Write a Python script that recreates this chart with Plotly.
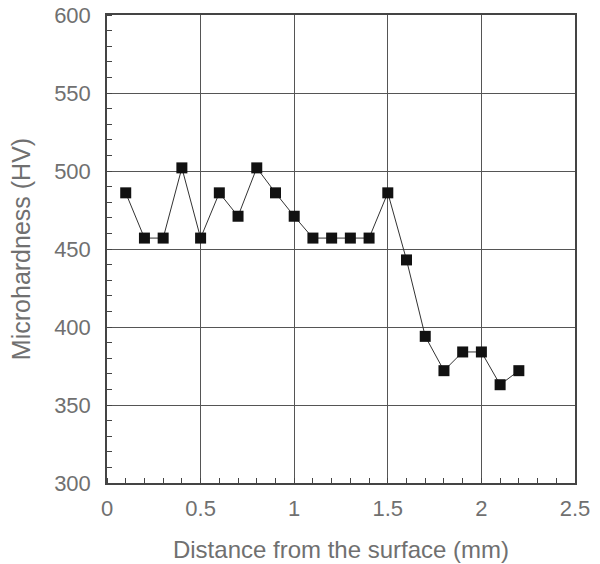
import plotly.graph_objects as go

distance_mm = [0.1, 0.2, 0.3, 0.4, 0.5, 0.6, 0.7, 0.8, 0.9, 1.0, 1.1,
               1.2, 1.3, 1.4, 1.5, 1.6, 1.7, 1.8, 1.9, 2.0, 2.1, 2.2]
microhardness_hv = [486, 457, 457, 502, 457, 486, 471, 502, 486, 471, 457,
                    457, 457, 457, 486, 443, 394, 372, 384, 384, 363, 372]

x_ticks = [0, 0.5, 1, 1.5, 2, 2.5]
x_tick_labels = ["0", "0.5", "1", "1.5", "2", "2.5"]
y_ticks = [300, 350, 400, 450, 500, 550, 600]

FONT = "Liberation Sans, Arial, sans-serif"
fig = go.Figure()
fig.add_trace(go.Scatter(
    x=distance_mm, y=microhardness_hv, mode="lines+markers",
    line=dict(color="#333333", width=1),
    marker=dict(symbol="square", size=11, color="#111111"),
    showlegend=False, cliponaxis=False,
))

tickfont = dict(family=FONT, size=22, color="#707070")
fig.update_layout(
    width=600, height=564,
    margin=dict(l=107, r=25, t=15, b=81),
    plot_bgcolor="white", paper_bgcolor="white",
    xaxis=dict(
        range=[0, 2.5], tickvals=x_ticks, ticktext=x_tick_labels,
        showgrid=True, gridcolor="#555555", gridwidth=1,
        showline=True, linecolor="#444444", linewidth=1.5, mirror=True,
        ticks="", tickfont=tickfont, zeroline=False, automargin=False,
        ticklabelstandoff=5, ticklabeloverflow="allow",
        minor=dict(dtick=0.1, ticks="inside", ticklen=5, tickcolor="#444444", showgrid=False),
        title=dict(text="Distance from the surface (mm)",
                   font=dict(family=FONT, size=24, color="#707070"), standoff=21),
    ),
    yaxis=dict(
        range=[300, 600], tickvals=y_ticks,
        showgrid=True, gridcolor="#555555", gridwidth=1,
        showline=True, linecolor="#444444", linewidth=1.5, mirror=True,
        ticks="", tickfont=tickfont, zeroline=False, automargin=False,
        ticklabelstandoff=10, ticklabeloverflow="allow",
        minor=dict(dtick=10, ticks="inside", ticklen=5, tickcolor="#444444", showgrid=False),
        title=dict(text="Microhardness (HV)",
                   font=dict(family=FONT, size=25, color="#707070"), standoff=16),
    ),
)

fig.write_html("out.html", config={"displayModeBar": False},
               post_script="document.body.style.margin='0';")
